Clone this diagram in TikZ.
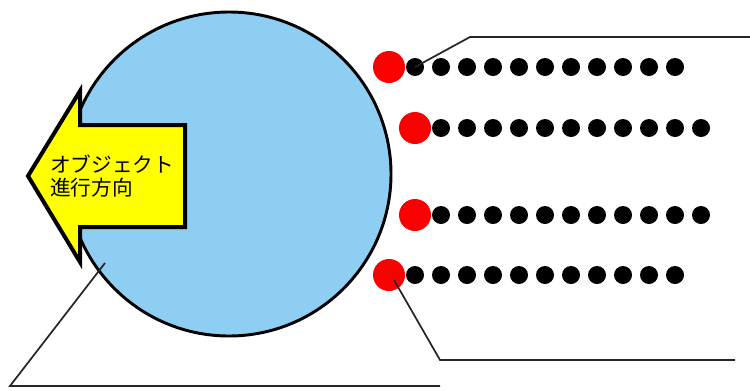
\documentclass[tikz,border=0pt]{standalone}
\usepackage{fontspec}
\newfontfamily\cjk{Noto Sans CJK JP}
\definecolor{skyfill}{RGB}{143,206,243}
\definecolor{arrowyellow}{RGB}{255,255,0}
\definecolor{dotred}{RGB}{250,0,0}
\begin{document}
\begin{tikzpicture}[x=0.75pt,y=-0.75pt,
  body/.style={circle,draw=black,line width=2.2pt,fill=skyfill,minimum size=324*0.75pt,inner sep=0pt},
  reddot/.style={circle,fill=dotred,minimum size=32*0.75pt,inner sep=0pt},
  blackdot/.style={circle,fill=black,minimum size=18*0.75pt,inner sep=0pt},
  callout/.style={draw=black!85,line width=1.3pt},
  dirarrow/.style={draw=black,line width=3pt,fill=arrowyellow,line join=miter}]
\useasboundingbox (0,0) rectangle (750,390);
% main object
\node[body] (obj) at (229,174) {};
% direction arrow
\draw[dirarrow] (28,176) -- (80,91) -- (80,125) -- (185,125) -- (185,227) -- (80,227) -- (80,262) -- cycle;
\node[anchor=west,align=left,font=\cjk\fontsize{15.5}{17}\selectfont,inner sep=0pt] (lbl) at (50,176) {オブジェクト\\進行方向};
% rows of dots
\foreach \r/\rx/\ry in {1/389/67, 2/415/128, 3/415/215, 4/389/275}{
  \node[reddot] (r\r) at (\rx,\ry) {};
  \foreach \k in {1,...,11}{
    \node[blackdot] (d\r-\k) at ({\rx+26*\k},\ry) {};
  }
}
% callouts
\coordinate (c1a) at (470,37);
\coordinate (c1b) at (750,37);
\draw[callout] (d1-1.center) -- (c1a) -- (c1b);
\coordinate (c2a) at (440,360);
\coordinate (c2b) at (735,360);
\draw[callout] ([shift={(5,5)}]r4.center) -- (c2a) -- (c2b);
\coordinate (c3s) at (105,263);
\coordinate (c3a) at (10,386);
\coordinate (c3b) at (440,386);
\draw[callout] (c3s) -- (c3a) -- (c3b);
\end{tikzpicture}
\end{document}
